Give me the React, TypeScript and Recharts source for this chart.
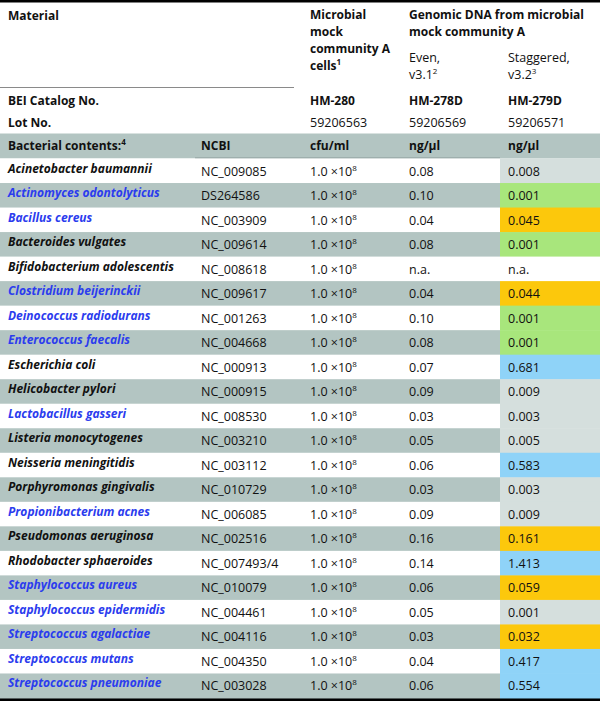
import { BarChart, Bar, XAxis, YAxis, Customized } from 'recharts'

const bacteria = [
  'Acinetobacter baumannii', 'Actinomyces odontolyticus', 'Bacillus cereus', 'Bacteroides vulgates',
  'Bifidobacterium adolescentis', 'Clostridium beijerinckii', 'Deinococcus radiodurans', 'Enterococcus faecalis',
  'Escherichia coli', 'Helicobacter pylori', 'Lactobacillus gasseri', 'Listeria monocytogenes',
  'Neisseria meningitidis', 'Porphyromonas gingivalis', 'Propionibacterium acnes', 'Pseudomonas aeruginosa',
  'Rhodobacter sphaeroides', 'Staphylococcus aureus', 'Staphylococcus epidermidis', 'Streptococcus agalactiae',
  'Streptococcus mutans', 'Streptococcus pneumoniae'
]

// names printed in blue in the source table
const blueName = [
  false, true, true, false, false, true, true, true, false, false, true,
  false, false, false, true, false, false, true, true, true, true, true
]

const ncbi = [
  'NC_009085', 'DS264586', 'NC_003909', 'NC_009614', 'NC_008618', 'NC_009617', 'NC_001263', 'NC_004668',
  'NC_000913', 'NC_000915', 'NC_008530', 'NC_003210', 'NC_003112', 'NC_010729', 'NC_006085', 'NC_002516',
  'NC_007493/4', 'NC_010079', 'NC_004461', 'NC_004116', 'NC_004350', 'NC_003028'
]

const cfuMantissa = bacteria.map(() => '1.0')
const cfuExponent = bacteria.map(() => '8')

const evenConc = [
  0.08, 0.10, 0.04, 0.08, null, 0.04, 0.10, 0.08, 0.07, 0.09, 0.03,
  0.05, 0.06, 0.03, 0.09, 0.16, 0.14, 0.06, 0.05, 0.03, 0.04, 0.06
]

const staggeredConc = [
  0.008, 0.001, 0.045, 0.001, null, 0.044, 0.001, 0.001, 0.681, 0.009, 0.003,
  0.005, 0.583, 0.003, 0.009, 0.161, 1.413, 0.059, 0.001, 0.032, 0.417, 0.554
]

const staggeredClass = [
  'low', 'min', 'mid', 'min', 'none', 'mid', 'min', 'min', 'high', 'low', 'low',
  'low', 'high', 'low', 'low', 'mid', 'high', 'mid', 'low', 'mid', 'high', 'high'
]

const classColor: Record<string, string> = {
  none: '#ffffff',
  low: '#d5dfdd',
  min: '#a8e67c',
  mid: '#fcc80c',
  high: '#8fd3f8'
}

const rowGray = '#b3c5c2'
const blue = '#2b3cee'
const font = '"Open Sans", sans-serif'
const fs = 12.5
const fsBold = 12

const data = bacteria.map((name, i) => ({
  name,
  blue: blueName[i],
  ncbi: ncbi[i],
  cfu: cfuMantissa[i],
  exp: cfuExponent[i],
  even: evenConc[i] === null ? 'n.a.' : evenConc[i]!.toFixed(2),
  stag: staggeredConc[i] === null ? 'n.a.' : staggeredConc[i]!.toFixed(3),
  cls: staggeredClass[i],
  shaded: i % 2 === 1,
  rowBand: 500,
  cellBand: 100
}))

const RowShape = (props: any) => {
  const { x, y, width, height, payload } = props
  const col = (v: number) => x + (width * v) / 500
  return (
    <g fontFamily={font} fontSize={fs}>
      <rect x={x} y={y} width={width} height={height} fill={payload.shaded ? rowGray : '#ffffff'} />
      <text x={col(8)} y={y + 14} fontSize={fsBold} fontWeight={700} fontStyle="italic" fill={payload.blue ? blue : '#111'}>
        {payload.name}
      </text>
      <text x={col(201)} y={y + 17} fill="#111">{payload.ncbi}</text>
      <text x={col(310)} y={y + 17} fill="#111">
        {payload.cfu} ×10<tspan dy={-5} fontSize={8}>{payload.exp}</tspan>
      </text>
      <text x={col(409)} y={y + 17} fill="#111">{payload.even}</text>
    </g>
  )
}

const CellShape = (props: any) => {
  const { x, y, width, height, payload } = props
  const fill = payload.cls === 'none' ? (payload.shaded ? rowGray : '#ffffff') : classColor[payload.cls]
  return (
    <g fontFamily={font} fontSize={fs}>
      <rect x={x} y={y} width={width} height={height} fill={fill} />
      <text x={x + 8} y={y + 17} fill="#111">{payload.stag}</text>
    </g>
  )
}

const headerMaterial = 'Material'
const headerCells = ['Microbial', 'mock', 'community A', 'cells']
const headerDna = ['Genomic DNA from microbial', 'mock community A']
const headerEven = ['Even,', 'v3.1']
const headerStag = ['Staggered,', 'v3.2']
const catalogRow = ['BEI Catalog No.', 'HM-280', 'HM-278D', 'HM-279D']
const lotRow = ['Lot No.', '59206563', '59206569', '59206571']
const unitsRow = ['Bacterial contents:', 'NCBI', 'cfu/ml', 'ng/µl', 'ng/µl']

const Header = () => (
  <g fontFamily={font} fontSize={fs} fill="#111">
    <rect x={0} y={0} width={600} height={2.5} fill="#000" />
    <g fontSize={fsBold} fontWeight={700}>
      <text x={8} y={20}>{headerMaterial}</text>
      <text x={310} y={19}>{headerCells[0]}</text>
      <text x={310} y={36}>{headerCells[1]}</text>
      <text x={310} y={53}>{headerCells[2]}</text>
      <text x={310} y={70}>
        {headerCells[3]}<tspan dy={-5} fontSize={8}>1</tspan>
      </text>
      <text x={409} y={19}>{headerDna[0]}</text>
      <text x={409} y={36}>{headerDna[1]}</text>
    </g>
    <text x={409} y={62}>{headerEven[0]}</text>
    <text x={409} y={79}>{headerEven[1]}<tspan dy={-5} fontSize={8}>2</tspan></text>
    <text x={508} y={62}>{headerStag[0]}</text>
    <text x={508} y={79}>{headerStag[1]}<tspan dy={-5} fontSize={8}>3</tspan></text>
    <rect x={0} y={87} width={294} height={1} fill="#8a8a8a" />
    <g fontSize={fsBold} fontWeight={700}>
      <text x={8} y={105}>{catalogRow[0]}</text>
      <text x={310} y={105}>{catalogRow[1]}</text>
      <text x={409} y={105}>{catalogRow[2]}</text>
      <text x={508} y={105}>{catalogRow[3]}</text>
      <text x={8} y={127}>{lotRow[0]}</text>
    </g>
    <text x={310} y={127}>{lotRow[1]}</text>
    <text x={409} y={127}>{lotRow[2]}</text>
    <text x={508} y={127}>{lotRow[3]}</text>
    <rect x={0} y={133.5} width={600} height={25} fill={rowGray} />
    <rect x={195} y={157.5} width={305} height={1} fill="#8a9a98" />
    <g fontSize={fsBold} fontWeight={700}>
      <text x={8} y={150}>
        {unitsRow[0]}<tspan dy={-5} fontSize={8}>4</tspan>
      </text>
      <text x={201} y={150}>{unitsRow[1]}</text>
      <text x={310} y={150}>{unitsRow[2]}</text>
      <text x={409} y={150}>{unitsRow[3]}</text>
      <text x={508} y={150}>{unitsRow[4]}</text>
    </g>
    <rect x={0} y={698} width={600} height={3} fill="#000" />
  </g>
)

export default function App() {
  return (
    <div style={{ position: 'absolute', left: 0, top: 0, width: 600, height: 701, background: '#fff' }}>
      <BarChart
        width={600}
        height={701}
        data={data}
        layout="vertical"
        margin={{ top: 158.5, right: 0, bottom: 3, left: 0 }}
        barCategoryGap={0}
        barGap={0}
      >
        <XAxis type="number" domain={[0, 600]} hide />
        <YAxis type="category" dataKey="name" hide />
        <Bar dataKey="rowBand" stackId="t" shape={RowShape} isAnimationActive={false} />
        <Bar dataKey="cellBand" stackId="t" shape={CellShape} isAnimationActive={false} />
        <Customized component={Header} />
      </BarChart>
    </div>
  )
}
